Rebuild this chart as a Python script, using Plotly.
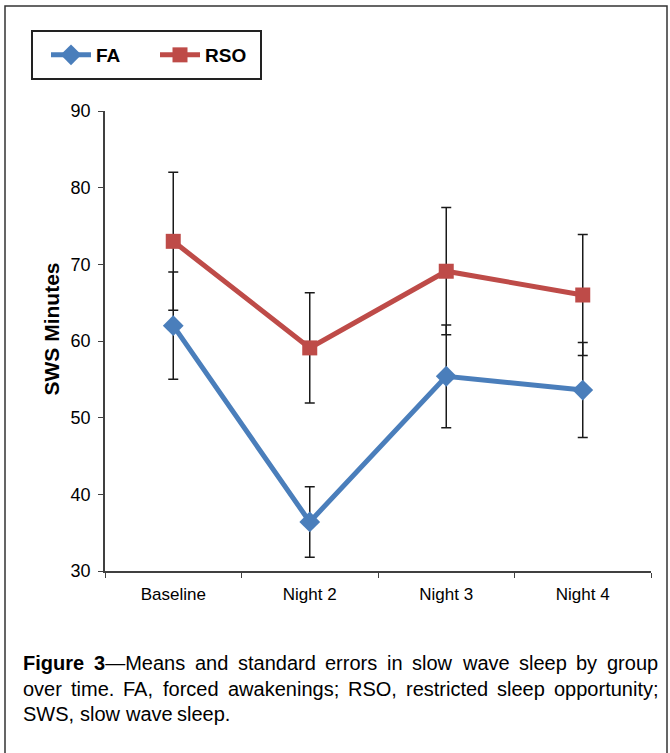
import plotly.graph_objects as go

categories = ["Baseline", "Night 2", "Night 3", "Night 4"]
fa_mean = [62.0, 36.4, 55.4, 53.6]
fa_se = [7.0, 4.6, 6.7, 6.2]
rso_mean = [73.0, 59.1, 69.1, 66.0]
rso_se = [9.0, 7.2, 8.3, 7.9]
y_ticks = [30, 40, 50, 60, 70, 80, 90]
caption_lines = [
    ["<b>Figure</b>", "<b>3</b>—Means", "and", "standard", "errors", "in", "slow", "wave", "sleep", "by", "group"],
    ["over", "time.", "FA,", "forced", "awakenings;", "RSO,", "restricted", "sleep", "opportunity;"],
    ["SWS,", "slow", "wave", "sleep."],
]

BLUE = "#4a7ebb"
RED = "#be4b48"
AXC = "#404040"
FONT = "Liberation Sans, Arial, sans-serif"

# page body margin is removed via post_script, so figure fills the window
W, H = 670, 753
PL, PR, PT, PB = 105, 651, 111, 571  # plot area in screen pixels


def xp(sx):
    return (sx - PL) / (PR - PL)


def yp(sy):
    return (PB - sy) / (PB - PT)


fig = go.Figure()
fig.add_trace(go.Scatter(
    x=categories, y=fa_mean, name="FA", mode="lines+markers",
    line=dict(color=BLUE, width=5),
    marker=dict(symbol="diamond", size=16, color=BLUE),
    error_y=dict(type="data", array=fa_se, visible=True, color="#1a1a1a", thickness=1.5, width=5),
))
fig.add_trace(go.Scatter(
    x=categories, y=rso_mean, name="RSO", mode="lines+markers",
    line=dict(color=RED, width=5),
    marker=dict(symbol="square", size=15, color=RED),
    error_y=dict(type="data", array=rso_se, visible=True, color="#1a1a1a", thickness=1.5, width=5),
))

fig.update_layout(
    width=W, height=H,
    margin=dict(l=PL, r=W - PR, t=PT, b=H - PB),
    paper_bgcolor="white", plot_bgcolor="white",
    font=dict(family=FONT, size=17, color="black"),
    showlegend=True,
    legend=dict(
        orientation="h", xref="container", yref="container",
        x=46 / W, y=1 - 55 / H, xanchor="left", yanchor="middle",
        borderwidth=0, bgcolor="rgba(0,0,0,0)",
        font=dict(family=FONT, size=19, color="black", weight="bold"),
        itemwidth=40, entrywidth=54,
    ),
)
fig.update_xaxes(
    type="category", range=[-0.5, 3.5], showline=True, linecolor=AXC, linewidth=1.5,
    ticks="outside", ticklen=5, tickcolor=AXC, tickson="boundaries",
    showgrid=False, zeroline=False, tickfont=dict(size=17), ticklabelstandoff=7,
)
fig.update_yaxes(
    range=[30, 90], tickvals=y_ticks, showline=True, linecolor=AXC, linewidth=1.5,
    ticks="outside", ticklen=5, tickcolor=AXC, showgrid=False, zeroline=False,
    tickfont=dict(size=18), ticklabelstandoff=4,
)
fig.add_annotation(
    text="<b>SWS Minutes</b>", xref="paper", yref="paper", x=xp(37), y=yp(329),
    textangle=-90, showarrow=False, font=dict(family=FONT, size=21),
)

# caption, justified across 22..657 px using Arial-compatible advance widths
REG = {" ": 278, ",": 278, ".": 278, ";": 278, "—": 1000, "3": 556,
       "a": 556, "b": 556, "c": 500, "d": 556, "e": 556, "f": 278, "g": 556, "h": 556,
       "i": 222, "k": 500, "l": 222, "m": 833, "n": 556, "o": 556, "p": 556, "r": 333,
       "s": 500, "t": 278, "u": 556, "v": 500, "w": 722, "y": 500,
       "A": 667, "F": 611, "M": 833, "O": 778, "R": 722, "S": 667, "W": 944}
BOLD = {"F": 611, "i": 278, "g": 611, "u": 611, "r": 389, "e": 556, "3": 556}
CAP_SIZE = 20
CAP_LEFT, CAP_RIGHT = 22, 657
CAP_Y = [663, 689, 714]


def word_width(word):
    total = 0
    bold = False
    i = 0
    while i < len(word):
        if word.startswith("<b>", i):
            bold = True
            i += 3
            continue
        if word.startswith("</b>", i):
            bold = False
            i += 4
            continue
        ch = word[i]
        total += (BOLD.get(ch, 600) if bold else REG.get(ch, 556))
        i += 1
    return total * CAP_SIZE / 1000


for li, words in enumerate(caption_lines):
    widths = [word_width(w) for w in words]
    justify = li < len(caption_lines) - 1
    if justify:
        gap = (CAP_RIGHT - CAP_LEFT - sum(widths)) / (len(words) - 1)
    else:
        gap = REG[" "] * CAP_SIZE / 1000
    x = CAP_LEFT
    for w, wd in zip(words, widths):
        fig.add_annotation(
            text=w, xref="paper", yref="paper", x=xp(x), y=yp(CAP_Y[li]),
            xanchor="left", yanchor="middle", showarrow=False,
            font=dict(family=FONT, size=CAP_SIZE, color="black"),
            borderpad=0,
        )
        x += wd + gap

# legend frame and outer figure frame (open at the bottom, as in the reference)
fig.add_shape(type="rect", xref="paper", yref="paper",
              x0=xp(32), x1=xp(261), y0=yp(79), y1=yp(31),
              line=dict(color="#222", width=2), fillcolor="rgba(0,0,0,0)")
fig.add_shape(type="path", xref="paper", yref="paper",
              path=f"M {xp(5)},{yp(800)} L {xp(5)},{yp(6)} L {xp(667)},{yp(6)} L {xp(667)},{yp(800)}",
              line=dict(color="#333", width=1.5))

fig.write_html(
    "out.html",
    config={"displayModeBar": False},
    post_script="document.body.style.margin='0';document.body.style.overflow='hidden';",
)
